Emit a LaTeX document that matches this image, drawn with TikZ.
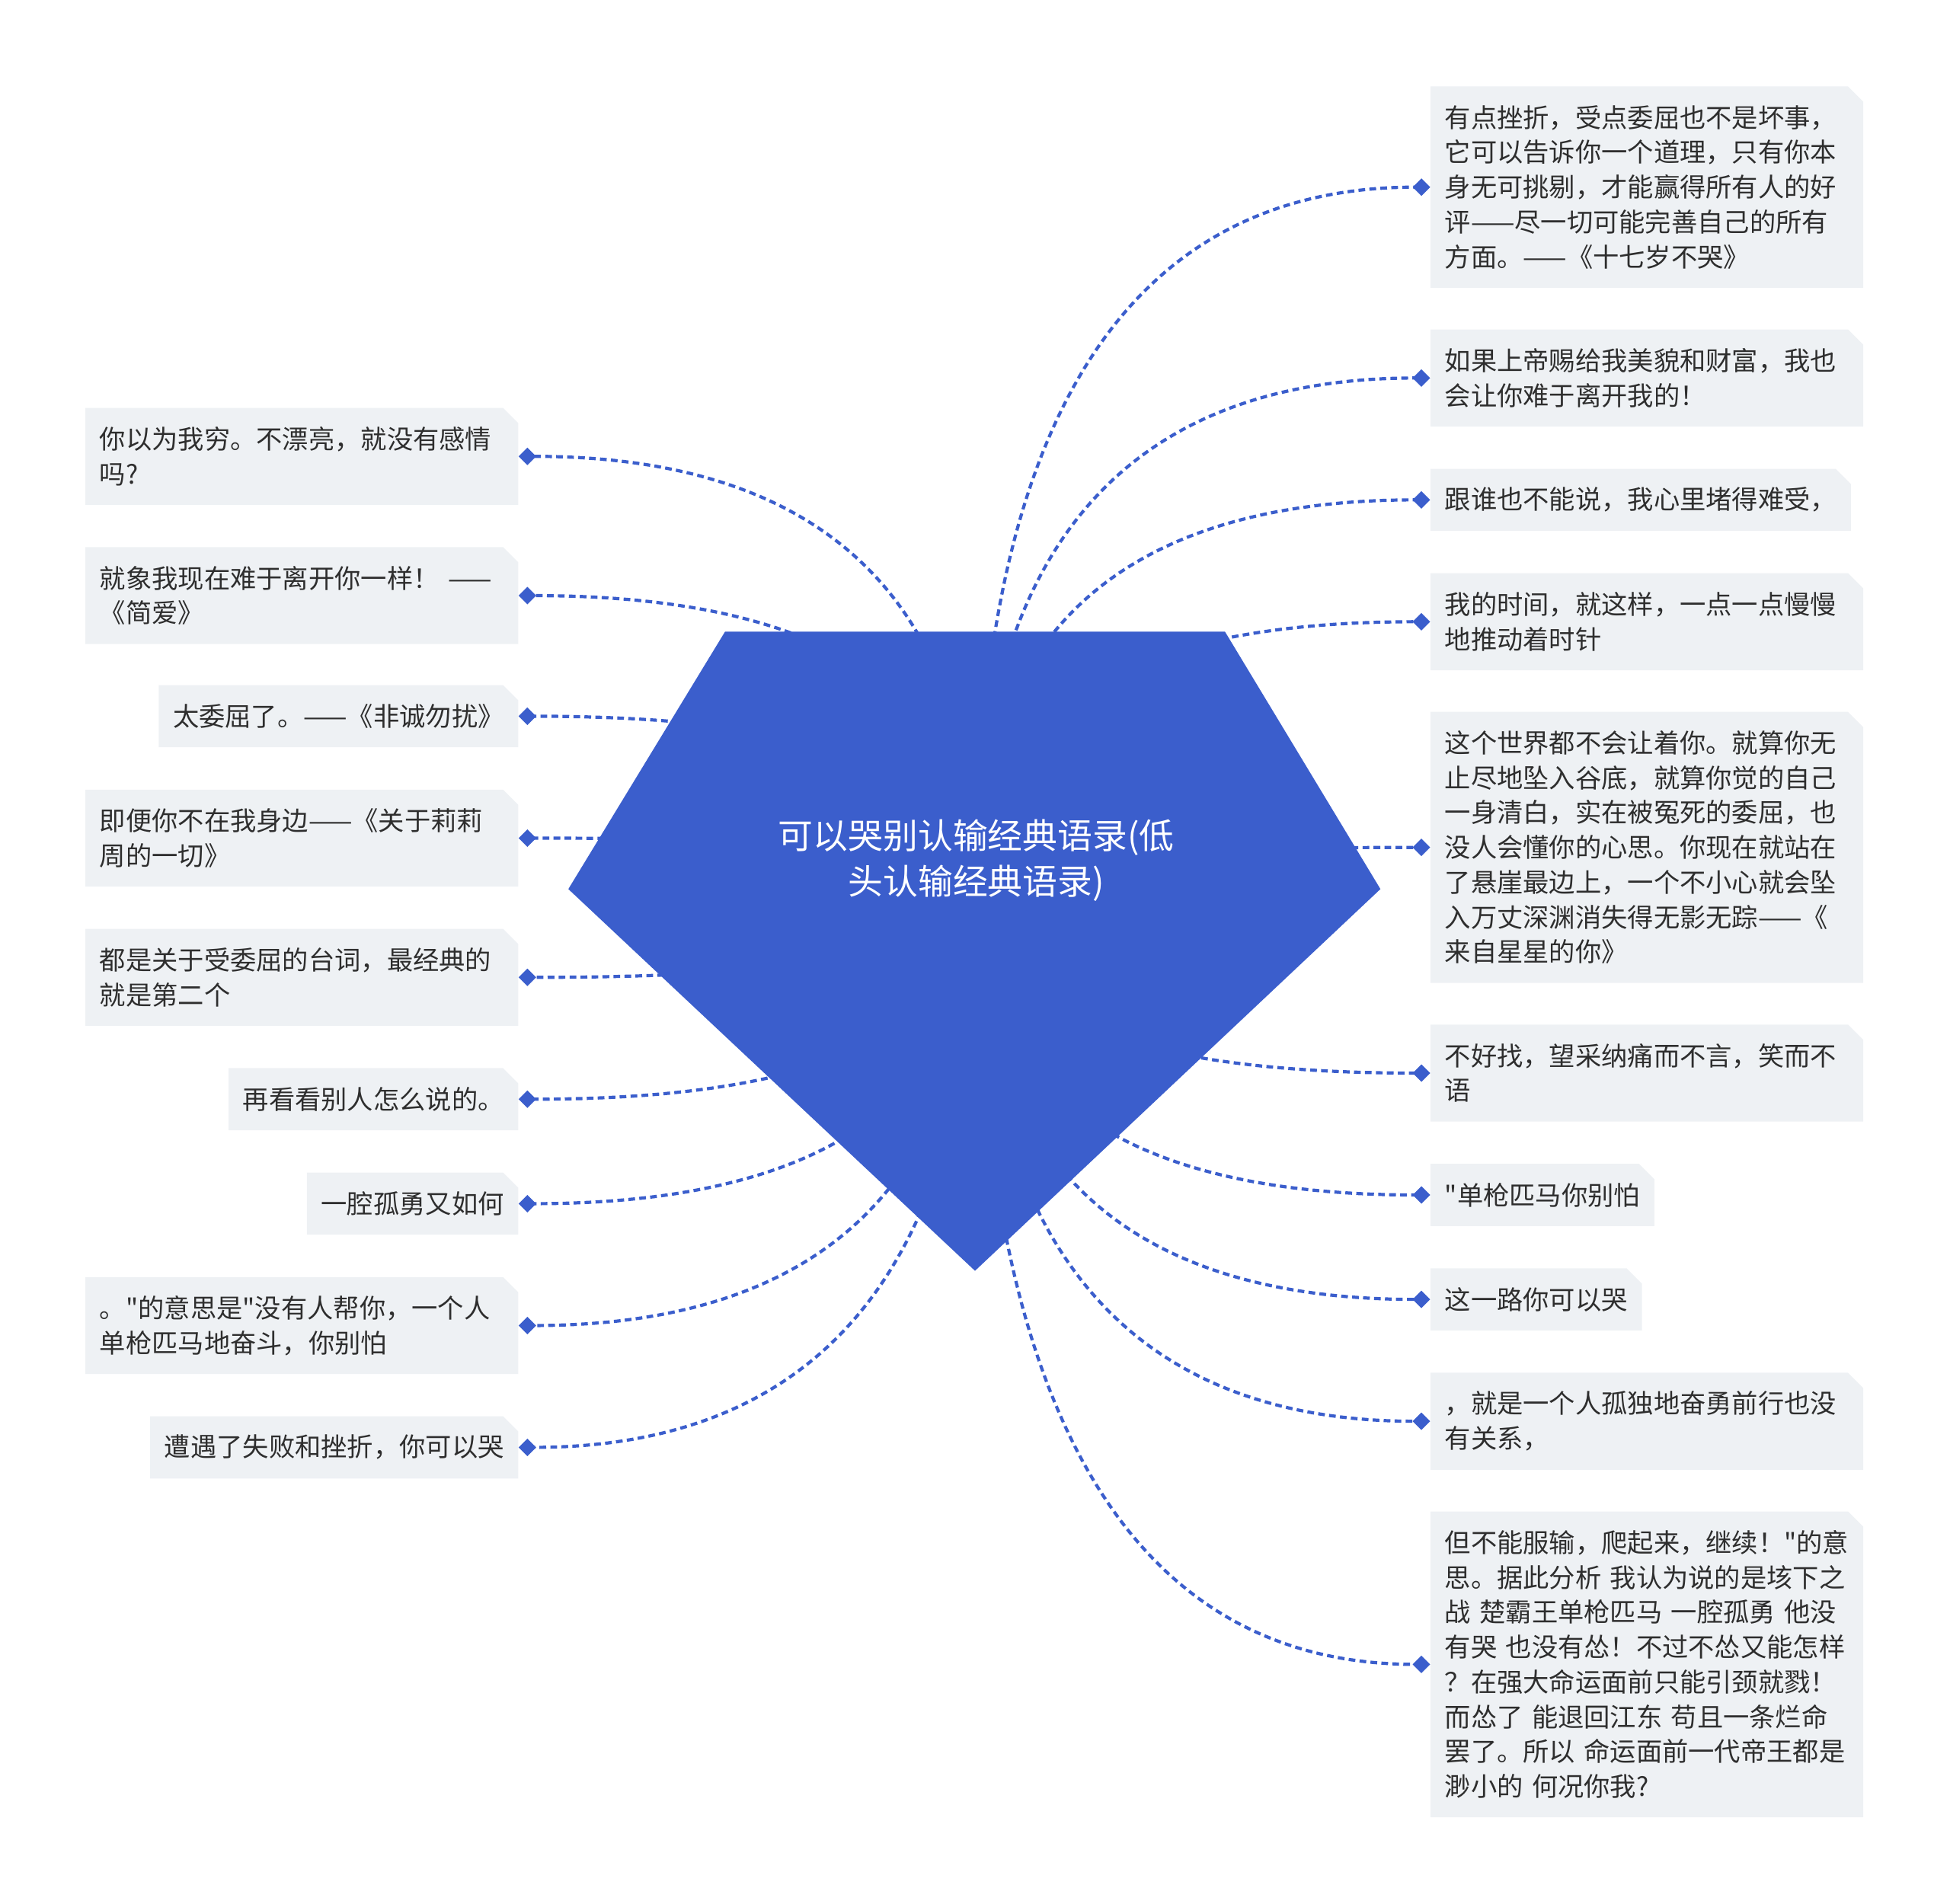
\documentclass[tikz,border=0pt]{standalone}
\usepackage{fontspec}
\setmainfont{Noto Sans CJK SC}[Ligatures=TeXOff]
\usetikzlibrary{arrows.meta,calc,shapes.misc}
\definecolor{hubblue}{HTML}{3B5ECC}
\definecolor{leafgray}{HTML}{EEF1F4}
\definecolor{inkgray}{HTML}{2E2E2E}

\begin{document}
\begin{tikzpicture}[x=.8163pt,y=-.8163pt,
  leaf/.style={shape=chamfered rectangle,chamfered rectangle corners=north east,
    chamfered rectangle xsep=5pt,chamfered rectangle ysep=5pt,
    fill=leafgray,text=inkgray,align=left,inner xsep=4.4pt,inner ysep=0pt,
    font=\fontsize{17.14pt}{22.86pt}\selectfont,minimum height={(22+28*#1)*.8163pt}},
  wide/.style={text width=265.3pt},
  link/.style={hubblue,line width=2.1pt,dash pattern=on 4.4pt off 2.8pt,
    -{Diamond[length=11.5pt,width=11.5pt]},
    to path={.. controls ($(\tikztostart)!2/3!(\tikztostart |- \tikztotarget)$)
      and ($(\tikztotarget)!2/3!(\tikztostart |- \tikztotarget)$) .. (\tikztotarget)}}]
  \useasboundingbox (0,0) rectangle (1568,1531);

  % left side
  \node[leaf=2,wide,anchor=east] (L1) at (417,367) {你以为我穷。不漂亮，就没有感情\\吗?};
  \node[leaf=2,wide,anchor=east] (L2) at (417,479) {就象我现在难于离开你一样！ ——\\《简爱》};
  \node[leaf=1,anchor=east] (L3) at (417,576) {太委屈了。——《非诚勿扰》};
  \node[leaf=2,wide,anchor=east] (L4) at (417,674) {即便你不在我身边——《关于莉莉\\周的一切》};
  \node[leaf=2,wide,anchor=east] (L5) at (417,786) {都是关于受委屈的台词，最经典的\\就是第二个};
  \node[leaf=1,anchor=east] (L6) at (417,884) {再看看别人怎么说的。};
  \node[leaf=1,anchor=east] (L7) at (417,968) {一腔孤勇又如何};
  \node[leaf=2,wide,anchor=east] (L8) at (417,1066) {。"的意思是"没有人帮你，一个人\\单枪匹马地奋斗，你别怕};
  \node[leaf=1,anchor=east] (L9) at (417,1164) {遭遇了失败和挫折，你可以哭};

  % right side
  \node[leaf=5,wide,anchor=west] (R1) at (1150,150.5) {有点挫折，受点委屈也不是坏事，\\它可以告诉你一个道理，只有你本\\身无可挑剔，才能赢得所有人的好\\评——尽一切可能完善自己的所有\\方面。——《十七岁不哭》};
  \node[leaf=2,wide,anchor=west] (R2) at (1150,304) {如果上帝赐给我美貌和财富，我也\\会让你难于离开我的！};
  \node[leaf=1,anchor=west] (R3) at (1150,402) {跟谁也不能说，我心里堵得难受，};
  \node[leaf=2,wide,anchor=west] (R4) at (1150,500) {我的时间，就这样，一点一点慢慢\\地推动着时针};
  \node[leaf=7,wide,anchor=west] (R5) at (1150,681.5) {这个世界都不会让着你。就算你无\\止尽地坠入谷底，就算你觉的自己\\一身清白，实在被冤死的委屈，也\\没人会懂你的心思。你现在就站在\\了悬崖最边上，一个不小心就会坠\\入万丈深渊消失得无影无踪——《\\来自星星的你》};
  \node[leaf=2,wide,anchor=west] (R6) at (1150,863) {不好找，望采纳痛而不言，笑而不\\语};
  \node[leaf=1,anchor=west] (R7) at (1150,961) {"单枪匹马你别怕};
  \node[leaf=1,anchor=west] (R8) at (1150,1045) {这一路你可以哭};
  \node[leaf=2,wide,anchor=west] (R9) at (1150,1143) {，就是一个人孤独地奋勇前行也没\\有关系，};
  \node[leaf=8,wide,anchor=west] (R10) at (1150,1338.5) {但不能服输，爬起来，继续！"的意\\思。据此分析 我认为说的是垓下之\\战 楚霸王单枪匹马 一腔孤勇 他没\\有哭 也没有怂！不过不怂又能怎样\\？在强大命运面前只能引颈就戮！\\而怂了 能退回江东 苟且一条烂命\\罢了。所以 命运面前一代帝王都是\\渺小的 何况你我?};

  % connectors, then the pentagon over their roots
  \coordinate (hub) at (785,715);
  \foreach \i in {1,...,9} \draw[link] (hub) to (L\i.east);
  \foreach \i in {1,...,10} \draw[link] (hub) to (R\i.west);

  \fill[hubblue] (583,508) -- (985,508) -- (1110,715) -- (784,1022) -- (457,715) -- cycle;
  \node[text=white,align=center,font=\fontsize{22.9pt}{30.2pt}\selectfont] (root) at (785,692)
    {可以哭别认输经典语录(低\\头认输经典语录)};
\end{tikzpicture}
\end{document}
